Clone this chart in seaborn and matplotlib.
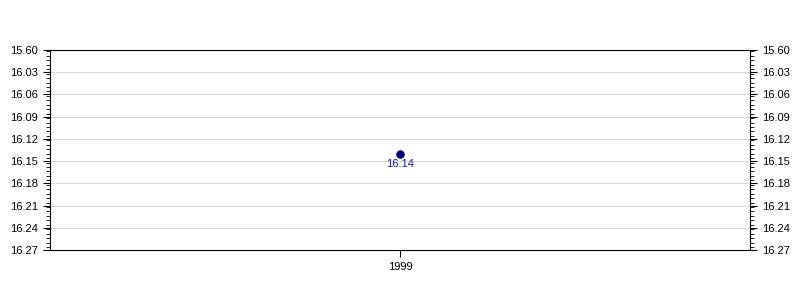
import matplotlib
matplotlib.use("Agg")
import matplotlib.pyplot as plt
import seaborn as sns
import pandas as pd
from matplotlib.ticker import FixedLocator, FixedFormatter, MultipleLocator

years = [1999]
values = [16.14]
point_labels = ["16.14"]
ytick_values = [16.00, 16.03, 16.06, 16.09, 16.12, 16.15, 16.18, 16.21, 16.24, 16.27]
ytick_labels = ["15.60", "16.03", "16.06", "16.09", "16.12", "16.15", "16.18", "16.21", "16.24", "16.27"]

sns.set_style("white")
plt.rcParams["font.family"] = ["Liberation Sans", "DejaVu Sans"]

df = pd.DataFrame({"year": years, "value": values})

fig = plt.figure(figsize=(8, 3), dpi=100)
ax = fig.add_axes([0.0625, 0.1667, 0.875, 0.6667])

for yv in ytick_values[1:-1]:
    ax.axhline(yv, color="#d9d9d9", linewidth=0.8, zorder=0)

sns.scatterplot(data=df, x="year", y="value", ax=ax, color="#000080",
                s=30, edgecolor="#000040", linewidth=0.6, zorder=3, legend=False)
for x, y, t in zip(years, values, point_labels):
    ax.annotate(t, (x, y), xytext=(0, -4), textcoords="offset points",
                ha="center", va="top", fontsize=8, color="#1a1aa0")

ax.set_xlim(1998, 2000)
ax.set_ylim(ytick_values[-1], ytick_values[0])
ax.xaxis.set_major_locator(FixedLocator(years))
ax.xaxis.set_major_formatter(FixedFormatter([str(y) for y in years]))
ax.yaxis.set_major_locator(FixedLocator(ytick_values))
ax.yaxis.set_major_formatter(FixedFormatter(ytick_labels))
ax.yaxis.set_minor_locator(MultipleLocator(0.006))

ax.set_xlabel("")
ax.set_ylabel("")
for sp in ax.spines.values():
    sp.set_visible(True)
    sp.set_color("black")
    sp.set_linewidth(0.8)

ax.tick_params(axis="y", which="both", left=True, right=True, labelleft=True,
               labelright=True, direction="out", colors="black", labelsize=8)
ax.tick_params(axis="y", which="major", length=5, width=0.8)
ax.tick_params(axis="y", which="minor", length=3, width=0.6)
ax.tick_params(axis="x", which="major", bottom=True, length=5, width=0.8,
               direction="out", labelsize=8, colors="black")

fig.savefig("out.png", dpi=100)
